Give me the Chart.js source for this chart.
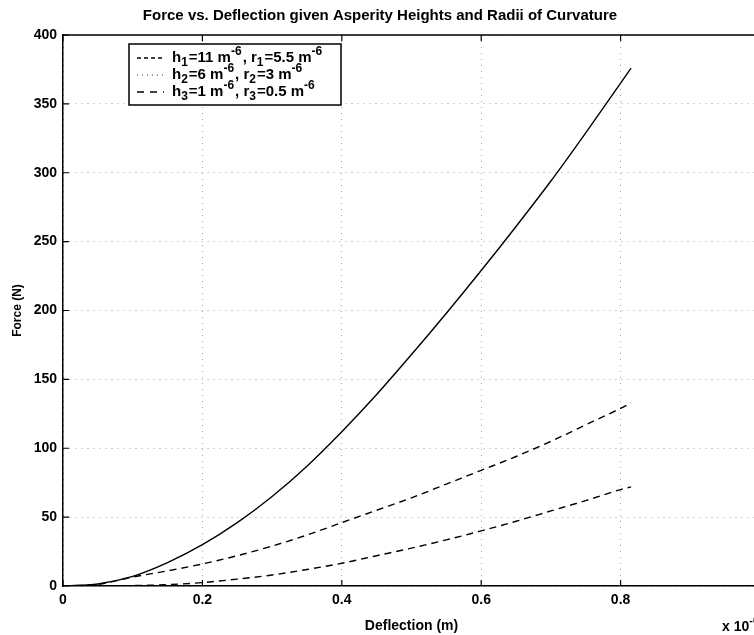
<!DOCTYPE html>
<html>
<head>
<meta charset="utf-8">
<title>Force vs. Deflection</title>
<script src="https://cdn.jsdelivr.net/npm/chart.js@4.4.1/dist/chart.umd.min.js"></script>
<style>
    html, body { margin: 0; padding: 0; background: #fff; overflow: hidden; }
    #wrap { width: 772px; height: 635px; position: relative; }
</style>
</head>
<body>
<div id="wrap"><canvas id="forceChart"></canvas></div>
<script>
// Deflection (x 10^-6 m) and force (N)
const deflection = [0, 0.05, 0.1, 0.15, 0.2, 0.25, 0.3, 0.35, 0.4, 0.45, 0.5, 0.55, 0.6, 0.65, 0.7, 0.75, 0.8, 0.815];
const forceH1 = [0, 1.5, 7, 17, 30, 46, 65, 87, 112, 139, 168, 198, 229, 261, 294, 329, 365, 376];
const forceH2 = [0, 1.2, 6.5, 11, 16, 22, 29, 37, 46, 55, 64, 74, 84, 94, 105, 117, 129, 133];
const forceH3 = [0, 0, 0.3, 1, 2.5, 5, 8, 12, 16.5, 22, 27.5, 33.5, 40, 47, 54.5, 62, 70, 72];

// Legend labels split into [text, 0 normal | -1 subscript | 1 superscript]
const legendLabels = [
    [['h', 0], ['1', -1], ['=11 m', 0], ['-6', 1], [', r', 0], ['1', -1], ['=5.5 m', 0], ['-6', 1]],
    [['h', 0], ['2', -1], ['=6 m', 0], ['-6', 1], [', r', 0], ['2', -1], ['=3 m', 0], ['-6', 1]],
    [['h', 0], ['3', -1], ['=1 m', 0], ['-6', 1], [', r', 0], ['3', -1], ['=0.5 m', 0], ['-6', 1]]
];
const legendDash = [[4, 3], [1, 4], [7, 6]];
const legendColor = ['#000', '#777', '#000'];

const FONT = "'Liberation Sans', Arial, sans-serif";

function toPoints(ys) {
    return deflection.map((d, i) => ({ x: d, y: ys[i] }));
}

// Draw text with sub/superscripts, returns end x
function drawRich(ctx, parts, x, y, size) {
    parts.forEach(([txt, mode]) => {
        const s = mode === 0 ? size : Math.round(size * 0.82);
        ctx.font = 'bold ' + s + 'px ' + FONT;
        const dy = mode === -1 ? size * 0.3 : mode === 1 ? -size * 0.4 : 0;
        ctx.fillText(txt, x, y + dy);
        x += ctx.measureText(txt).width + (mode === 0 ? 0 : 1);
    });
    return x;
}

// MATLAB style box: top border, inward ticks, boxed legend, exponent
const matlabAxes = {
    id: 'matlabAxes',
    afterDraw(chart) {
        const { ctx, chartArea: a, scales: { x, y } } = chart;
        ctx.save();
        ctx.strokeStyle = '#000';
        ctx.lineWidth = 1.5;
        ctx.beginPath();
        ctx.moveTo(a.left, a.top);
        ctx.lineTo(a.right, a.top);
        ctx.stroke();

        ctx.lineWidth = 1.2;
        x.ticks.forEach(t => {
            const px = x.getPixelForValue(t.value);
            ctx.beginPath();
            ctx.moveTo(px, a.bottom); ctx.lineTo(px, a.bottom - 6);
            ctx.moveTo(px, a.top); ctx.lineTo(px, a.top + 6);
            ctx.stroke();
        });
        y.ticks.forEach(t => {
            const py = y.getPixelForValue(t.value);
            ctx.beginPath();
            ctx.moveTo(a.left, py); ctx.lineTo(a.left + 6, py);
            ctx.moveTo(a.right, py); ctx.lineTo(a.right - 6, py);
            ctx.stroke();
        });

        // legend
        const bx = 129, by = 44, bw = 212, bh = 61;
        ctx.fillStyle = '#fff';
        ctx.fillRect(bx, by, bw, bh);
        ctx.lineWidth = 1.5;
        ctx.strokeRect(bx, by, bw, bh);
        ctx.textBaseline = 'middle';
        ctx.textAlign = 'left';
        legendLabels.forEach((parts, i) => {
            const ly = by + 14 + i * 17;
            ctx.strokeStyle = legendColor[i];
            ctx.lineWidth = 1.3;
            ctx.setLineDash(legendDash[i]);
            ctx.beginPath();
            ctx.moveTo(137, ly);
            ctx.lineTo(164, ly);
            ctx.stroke();
            ctx.setLineDash([]);
            ctx.fillStyle = '#000';
            drawRich(ctx, parts, 172, ly, 15);
        });

        // axis exponent
        ctx.fillStyle = '#000';
        drawRich(ctx, [['x 10', 0], ['-6', 1]], 722, 627, 14);
        ctx.restore();
    }
};

const lineStyle = {
    borderColor: '#000',
    borderWidth: 1.4,
    pointRadius: 0,
    fill: false,
    cubicInterpolationMode: 'monotone'
};

const gridStyle = { color: 'rgba(0,0,0,0.35)', drawTicks: false, lineWidth: 1 };

new Chart(document.getElementById('forceChart'), {
    type: 'line',
    data: {
        datasets: [
            Object.assign({ label: 'h1=11, r1=5.5', data: toPoints(forceH1) }, lineStyle),
            Object.assign({ label: 'h2=6, r2=3', data: toPoints(forceH2), borderDash: [7, 5] }, lineStyle),
            Object.assign({ label: 'h3=1, r3=0.5', data: toPoints(forceH3), borderDash: [7, 5] }, lineStyle)
        ]
    },
    options: {
        responsive: true,
        maintainAspectRatio: false,
        animation: false,
        layout: { padding: { left: 0, right: 12, top: 0, bottom: 0 } },
        plugins: {
            legend: { display: false },
            tooltip: { enabled: false },
            title: {
                display: true,
                text: 'Force vs. Deflection given Asperity Heights and Radii of Curvature',
                color: '#000',
                font: { family: FONT, size: 15, weight: 'bold' },
                padding: { top: 7, bottom: 10 }
            }
        },
        scales: {
            x: {
                type: 'linear',
                min: 0,
                max: 1,
                afterFit: s => { s.height = 49; },
                border: { display: true, color: '#000', width: 1.5, dash: [1, 5] },
                grid: gridStyle,
                ticks: {
                    stepSize: 0.2,
                    padding: 6,
                    color: '#000',
                    font: { family: FONT, size: 14, weight: 'bold' },
                    callback: v => Number(v.toFixed(1)).toString()
                },
                title: {
                    display: true,
                    text: 'Deflection (m)',
                    color: '#000',
                    font: { family: FONT, size: 14, weight: 'bold' },
                    padding: { top: 1, bottom: 0 }
                }
            },
            y: {
                min: 0,
                max: 400,
                afterFit: s => { s.width = 63; },
                border: { display: true, color: '#000', width: 1.5, dash: [1, 5] },
                grid: gridStyle,
                ticks: {
                    stepSize: 50,
                    padding: 6,
                    color: '#000',
                    font: { family: FONT, size: 14, weight: 'bold' }
                },
                title: {
                    display: true,
                    text: 'Force (N)',
                    color: '#000',
                    font: { family: FONT, size: 12, weight: 'bold' },
                    padding: { top: 10, bottom: 0 }
                }
            }
        }
    },
    plugins: [matlabAxes]
});
</script>
</body>
</html>
